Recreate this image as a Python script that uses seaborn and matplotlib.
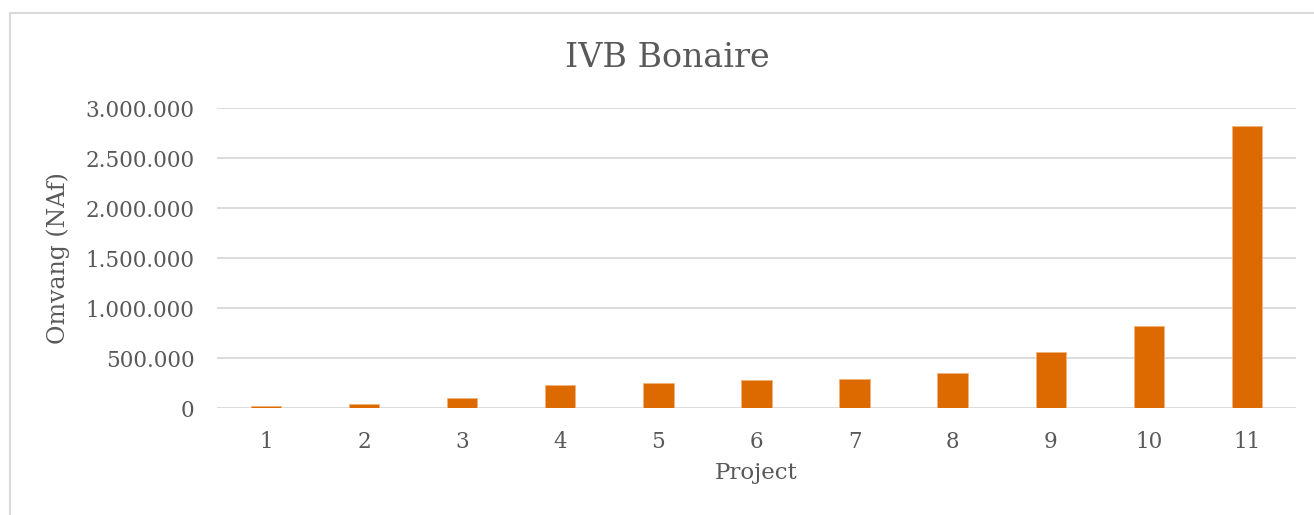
import pandas as pd
import matplotlib
matplotlib.use("Agg")
import matplotlib.pyplot as plt
from matplotlib.patches import Rectangle
from matplotlib.ticker import FuncFormatter
import seaborn as sns

# Project sizes (NAf)
projects = ["1", "2", "3", "4", "5", "6", "7", "8", "9", "10", "11"]
omvang = [25000, 40000, 103000, 233000, 253000, 287000, 293000, 350000, 560000, 823000, 2826000]

df = pd.DataFrame({"Project": projects, "Omvang": omvang})

sns.set_style("white")
plt.rcParams["font.family"] = ["DejaVu Serif"]

text_color = "#595959"
grid_color = "#D9D9D9"
bar_color = "#DD6A00"

fig = plt.figure(figsize=(13.14, 5.15), dpi=100)
ax = fig.add_axes([0.1651, 0.2072, 0.8212, 0.5825])

sns.barplot(data=df, x="Project", y="Omvang", color=bar_color, width=0.31,
            saturation=1, edgecolor="#F0B27A", linewidth=0.6, ax=ax, zorder=3)

ax.set_ylim(0, 3000000)
ax.set_yticks(range(0, 3000001, 500000))
ax.yaxis.set_major_formatter(FuncFormatter(lambda v, p: f"{int(v):,}".replace(",", ".")))
ax.set_xlim(-0.5, len(projects) - 0.5)
ax.grid(axis="y", color=grid_color, linewidth=1.3, zorder=0)
ax.set_axisbelow(True)
for s in ax.spines.values():
    s.set_visible(False)
ax.tick_params(axis="both", length=0, labelsize=15.5, colors=text_color)
ax.tick_params(axis="y", pad=16)
ax.tick_params(axis="x", pad=16)

ax.set_xlabel("Project", fontsize=16.5, color=text_color)
ax.set_ylabel("Omvang (NAf)", fontsize=17, color=text_color)
ax.xaxis.set_label_coords(0.5, -0.18)
ax.yaxis.set_label_coords(-0.136, 0.5)
fig.text(0.508, 1 - 66.7 / 515, "IVB Bonaire", fontsize=24, color=text_color,
         ha="center", va="baseline")

# light border round the chart area
fig.patches.append(Rectangle((9.5 / 1314, -0.1), 1.2, 1 - 12.5 / 515 + 0.1,
                             transform=fig.transFigure, fill=False,
                             edgecolor=grid_color, linewidth=1.5))

fig.savefig("out.png", dpi=100)
